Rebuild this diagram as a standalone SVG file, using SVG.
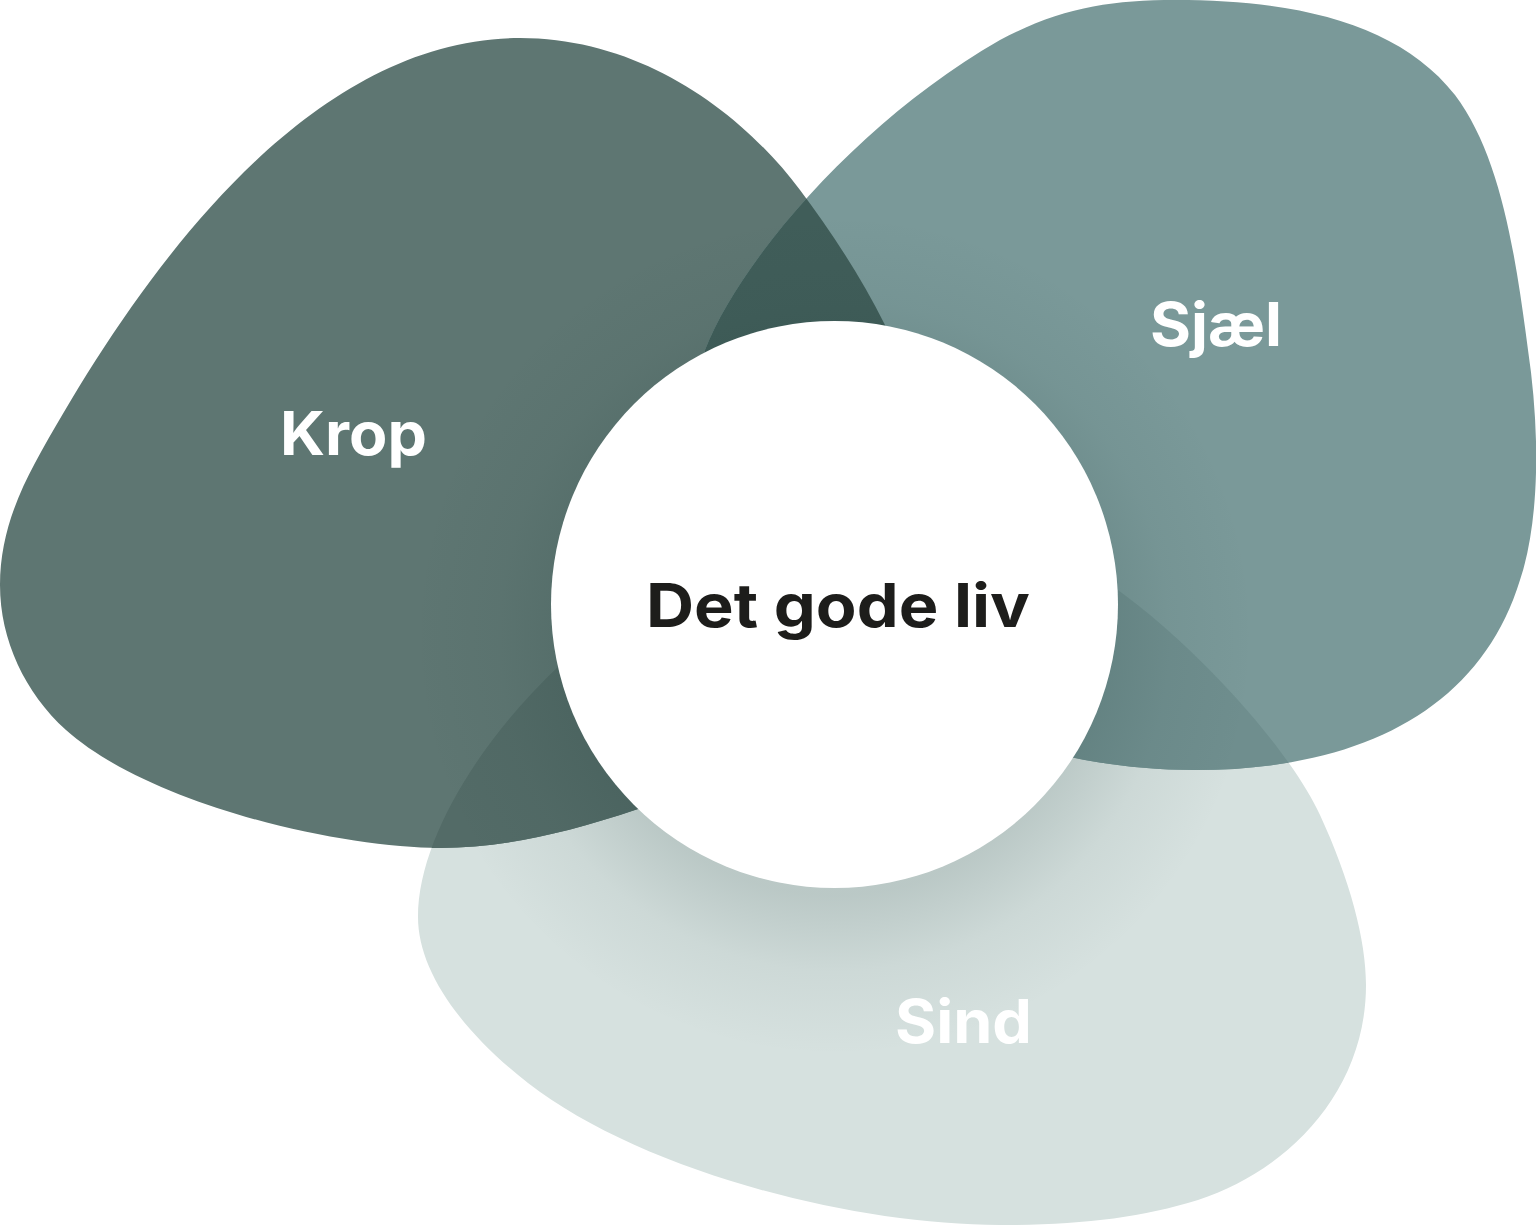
<svg xmlns="http://www.w3.org/2000/svg" xmlns:xlink="http://www.w3.org/1999/xlink" width="1536" height="1226" viewBox="0 0 1536 1226">
  <style>
    .label { font-family: "Inter", "Liberation Sans", sans-serif; font-weight: 700; font-size: 60px; fill: #ffffff; }
    .center-label { font-family: "Inter", "Liberation Sans", sans-serif; font-weight: 700; font-size: 60px; fill: #1d1d1b; }
  </style>
  <defs>
    <path id="p-krop" d="M 520,38 C 640,38 740,110 800,190 C 830,230 860,275 885,325 C 950,450 800,760 638,809 C 560,835 500,848 440,848 C 340,848 150,805 66,730 C 25,693 0,640 0,585 C 0,540 15,500 35,463 C 130,290 300,38 520,38 Z"/>
    <path id="p-sjael" d="M 1175,0 C 1300,0 1400,25 1455,95 C 1500,155 1515,250 1528,350 C 1540,430 1540,520 1520,580 C 1480,710 1360,770 1195,770 C 1150,770 1110,765 1075,758 C 880,720 680,520 705,350 C 740,260 860,120 1000,40 C 1060,8 1110,0 1175,0 Z"/>
    <path id="p-sind" d="M 1118,590 C 1200,650 1290,750 1320,815 C 1350,880 1366,940 1366,985 C 1366,1090 1290,1170 1198,1200 C 1140,1218 1080,1225 1000,1225 C 850,1225 640,1170 528,1083 C 460,1030 418,970 418,917 C 418,840 480,740 560,665 C 700,540 1000,500 1118,590 Z"/>
    <clipPath id="c-krop"><use xlink:href="#p-krop"/></clipPath>
    <clipPath id="c-sjael"><use xlink:href="#p-sjael"/></clipPath>
    <clipPath id="c-sind"><use xlink:href="#p-sind"/></clipPath>
    <clipPath id="c-all">
      <use xlink:href="#p-krop"/>
      <use xlink:href="#p-sjael"/>
      <use xlink:href="#p-sind"/>
    </clipPath>
    <radialGradient id="g-shadow" cx="834" cy="635" r="420" gradientUnits="userSpaceOnUse">
      <stop offset="0.62" stop-color="#1f3d39" stop-opacity="0.15"/>
      <stop offset="0.8" stop-color="#1f3d39" stop-opacity="0.05"/>
      <stop offset="1" stop-color="#1f3d39" stop-opacity="0"/>
    </radialGradient>
  </defs>

  <g id="node-sind">
    <use xlink:href="#p-sind" fill="#d6e1df"/>
  </g>
  <g id="node-krop">
    <use xlink:href="#p-krop" fill="#5e7672"/>
  </g>
  <g id="node-sjael">
    <use xlink:href="#p-sjael" fill="#7a9999"/>
  </g>

  <g id="overlaps">
    <g clip-path="url(#c-sind)"><use xlink:href="#p-krop" fill="#536b67"/></g>
    <g clip-path="url(#c-sind)"><use xlink:href="#p-sjael" fill="#6f8e8e"/></g>
    <g clip-path="url(#c-sjael)"><use xlink:href="#p-krop" fill="#405d59"/></g>
  </g>

  <g id="shadow" clip-path="url(#c-all)">
    <circle cx="834" cy="635" r="420" fill="url(#g-shadow)"/>
  </g>

  <g id="node-center">
    <circle cx="834.5" cy="604.5" r="283.5" fill="#ffffff"/>
    <text class="center-label" x="646" y="627" textLength="384" lengthAdjust="spacingAndGlyphs">Det gode liv</text>
  </g>

  <g id="labels">
    <text class="label" x="280" y="455" textLength="147" lengthAdjust="spacingAndGlyphs">Krop</text>
    <text class="label" x="1150" y="346" textLength="132" lengthAdjust="spacingAndGlyphs">Sjæl</text>
    <text class="label" x="895" y="1043" textLength="137" lengthAdjust="spacingAndGlyphs">Sind</text>
  </g>
</svg>
